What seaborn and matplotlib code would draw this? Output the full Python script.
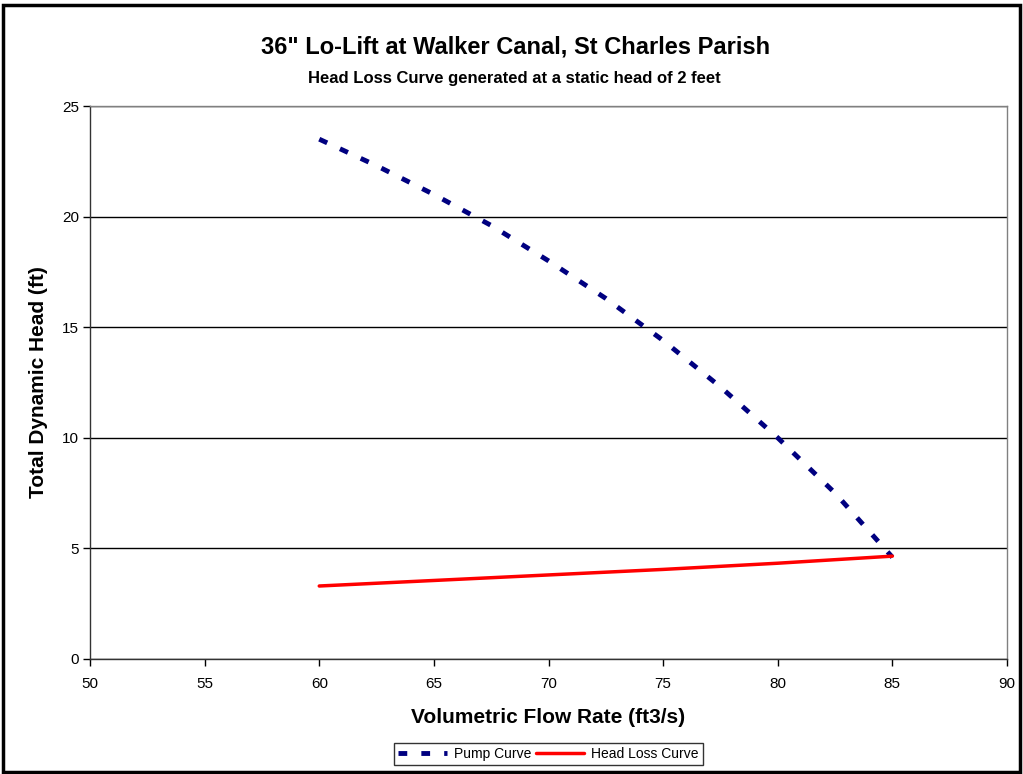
import matplotlib
matplotlib.use("Agg")
import matplotlib.pyplot as plt
import seaborn as sns
import pandas as pd

flow_pump = [60, 62.5, 65, 67.5, 70, 72.5, 75, 77.5, 80, 82.5, 85]
head_pump = [23.5, 22.3, 21.0, 19.6, 18.0, 16.3, 14.4, 12.3, 10.0, 7.5, 4.6]
flow_loss = [60, 65, 70, 75, 80, 85]
head_loss = [3.3, 3.55, 3.8, 4.05, 4.33, 4.65]

pump = pd.DataFrame({"flow": flow_pump, "head": head_pump})
loss = pd.DataFrame({"flow": flow_loss, "head": head_loss})

sns.set_theme(style="white")
plt.rcParams["font.family"] = ["Liberation Sans", "DejaVu Sans"]
plt.rcParams["text.color"] = "black"
plt.rcParams["axes.labelcolor"] = "black"
plt.rcParams["xtick.color"] = "black"
plt.rcParams["ytick.color"] = "black"

fig = plt.figure(figsize=(10.23, 7.74), dpi=100)
ax = fig.add_axes([90 / 1023, 1 - 659 / 774, (1007 - 90) / 1023, (659 - 106) / 774])

sns.lineplot(data=pump, x="flow", y="head", ax=ax, color="#000080", linewidth=3.5,
             linestyle=(0, (1.8, 2.9)), label="Pump Curve")
sns.lineplot(data=loss, x="flow", y="head", ax=ax, color="#ff0000", linewidth=2.5,
             label="Head Loss Curve")

ax.set_xlim(50, 90)
ax.set_ylim(0, 25)
ax.set_xticks(range(50, 91, 5))
ax.set_yticks(range(0, 26, 5))
ax.yaxis.grid(True, color="black", linewidth=1)
ax.set_axisbelow(True)
ax.tick_params(axis="both", direction="out", length=5, width=1, color="black",
               labelsize=11, left=True, bottom=True)
ax.tick_params(axis="x", pad=8)
ax.tick_params(axis="y", pad=3)
for side in ["top", "right"]:
    ax.spines[side].set_color("#808080")
for side in ["left", "bottom"]:
    ax.spines[side].set_color("#333333")
for s in ax.spines.values():
    s.set_linewidth(1)

ax.set_xlabel("Volumetric Flow Rate (ft3/s)", fontsize=15, fontweight="bold", labelpad=12)
ax.set_ylabel("Total Dynamic Head (ft)", fontsize=15, fontweight="bold", labelpad=10)

fig.text(516 / 1023, 1 - 47 / 774, '36" Lo-Lift at Walker Canal, St Charles Parish',
         ha="center", va="center", fontsize=17, fontweight="bold")
fig.text(514 / 1023, 1 - 79 / 774, "Head Loss Curve generated at a static head of 2 feet",
         ha="center", va="center", fontsize=12, fontweight="bold")

leg = ax.legend(loc="center", bbox_to_anchor=(0.5, -0.172), ncol=2, frameon=True,
                fancybox=False, edgecolor="black", fontsize=10, handlelength=3.5,
                columnspacing=0.3, handletextpad=0.5, borderpad=0.3)
leg.get_frame().set_linewidth(1)

fig.patches.append(plt.Rectangle((3 / 1023, 0.002), 1 - 6 / 1023, 1 - 5 / 774 - 0.002,
                                 transform=fig.transFigure, fill=False,
                                 edgecolor="black", linewidth=2.5))

fig.savefig("out.png", dpi=100)
